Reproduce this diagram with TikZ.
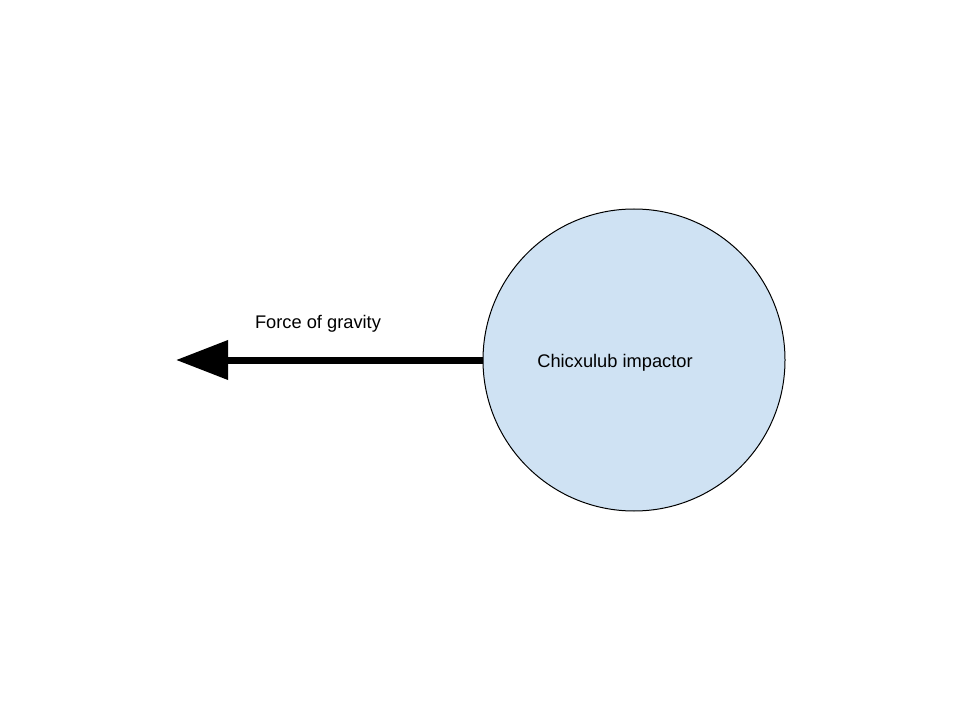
\documentclass[tikz,border=0pt]{standalone}
\usepackage{fontspec}
\setmainfont{Liberation Sans}
\usetikzlibrary{arrows.meta}
\definecolor{bodyblue}{HTML}{CFE2F3}
\begin{document}
\begin{tikzpicture}[x=0.75pt,y=-0.75pt,
  lbl/.style={font=\fontsize{13.7}{16}\selectfont, inner sep=0pt},
  body/.style={circle, draw=black, line width=0.75pt, fill=bodyblue, minimum size=226.5pt, inner sep=0pt},
  force/.style={line width=5.25pt, -{Triangle[length=39pt,width=28.5pt]}}]
\useasboundingbox (0,0) rectangle (960,720);
\node[body] (ball) at (634,360) {};
\node[lbl] (name) at (615,362.5) {Chicxulub impactor};
\coordinate (tip) at (176,360);
\draw[force] (ball.west) -- (tip);
\node[lbl] (flabel) at (318,324) {Force of gravity};
\end{tikzpicture}
\end{document}
